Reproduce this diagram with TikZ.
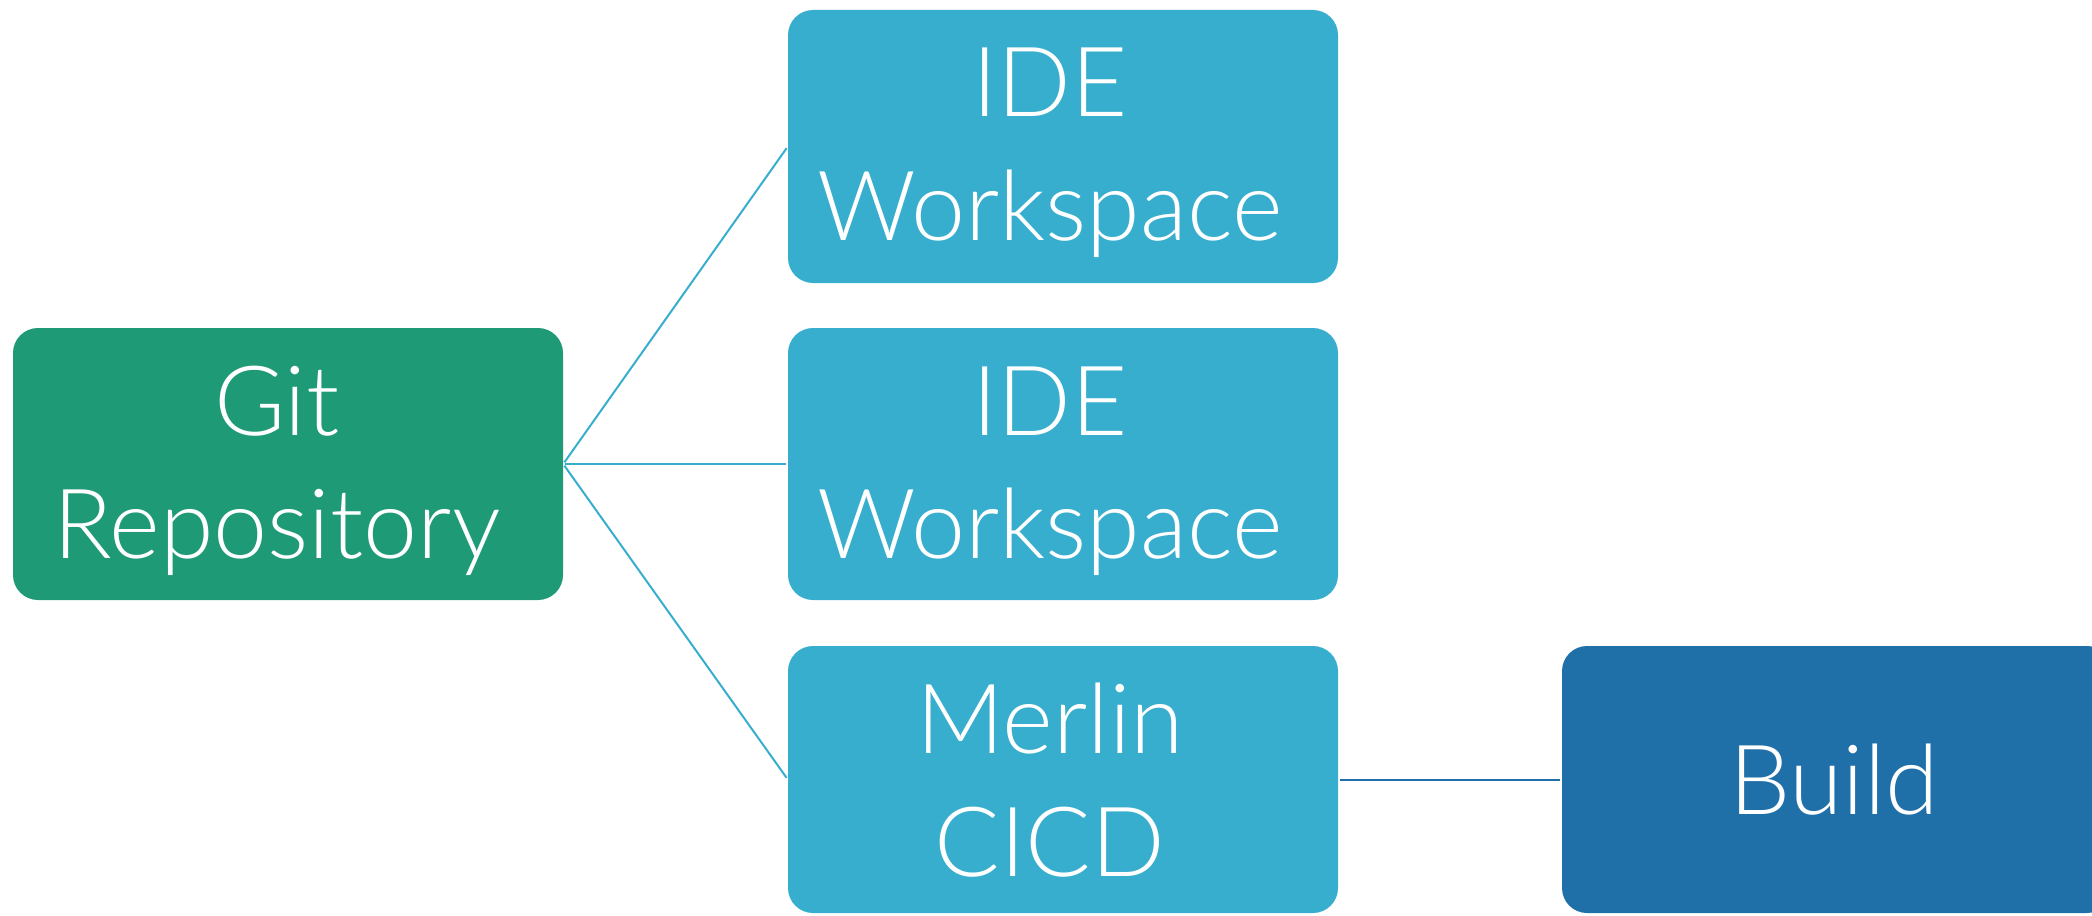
\documentclass[tikz,border=0pt]{standalone}
\usepackage{fontspec}
\setmainfont{Lato Light}
\definecolor{gitgreen}{HTML}{1E9A77}
\definecolor{idecyan}{HTML}{37AECE}
\definecolor{builddark}{HTML}{1F6FA8}
\begin{document}
\begin{tikzpicture}[x=1pt,y=-1pt,
  box/.style={rounded corners=25pt, inner sep=0pt, minimum width=550pt},
  txt/.style={anchor=base, inner sep=0pt, text=white, font=\fontsize{97}{97}\selectfont},
  link/.style={line width=2pt, shorten <=2pt, shorten >=2pt}]
\useasboundingbox (0,0) rectangle (2092,915);
\clip (0,0) rectangle (2092,915);
\node[box, fill=gitgreen, minimum height=272pt] (git) at (288,464) {};
\node[box, fill=idecyan, minimum height=273pt] (ide1) at (1063,146.5) {};
\node[box, fill=idecyan, minimum height=272pt] (ide2) at (1063,464) {};
\node[box, fill=idecyan, minimum height=267pt] (merlin) at (1063,779.5) {};
\node[box, fill=builddark, minimum height=267pt] (build) at (1837,779.5) {};
\node[txt] (gitA) at (277,435) {Git};
\node[txt] (gitB) at (277,558) {Repository};
\node[txt] (ide1A) at (1050,117) {IDE};
\node[txt] (ide1B) at (1050,240) {Workspace};
\node[txt] (ide2A) at (1050,435) {IDE};
\node[txt] (ide2B) at (1050,558) {Workspace};
\node[txt] (merlinA) at (1050,753) {Merlin};
\node[txt] (merlinB) at (1050,876) {CICD};
\node[txt] (buildA) at (1834,814) {Build};
\draw[link, idecyan] (git.east) -- (ide1.west);
\draw[link, idecyan] (git.east) -- (ide2.west);
\draw[link, idecyan] (git.east) -- (merlin.west);
\draw[link, builddark] (merlin.east) -- (build.west);
\end{tikzpicture}
\end{document}
